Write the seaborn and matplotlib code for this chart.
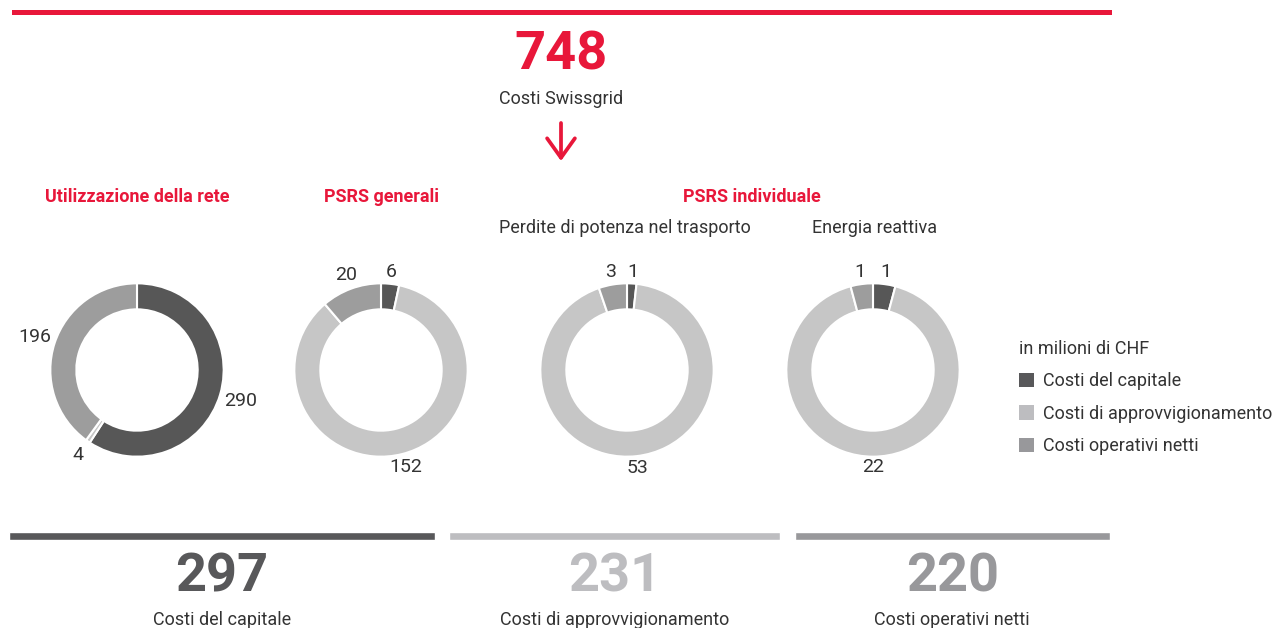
import numpy as np
import matplotlib
matplotlib.use("Agg")
import matplotlib.pyplot as plt
import matplotlib.transforms as mtransforms
from matplotlib.patches import Patch, Rectangle
import seaborn as sns

# data (in milioni di CHF)
costi_totali = 748
gruppi = ["Utilizzazione della rete", "PSRS generali",
          "Perdite di potenza nel trasporto", "Energia reattiva"]
capitale = [290, 6, 1, 1]
approvvigionamento = [4, 152, 53, 22]
operativi = [196, 20, 3, 1]
categorie = ["Costi del capitale", "Costi di approvvigionamento", "Costi operativi netti"]
totali_categorie = [297, 231, 220]

sns.set_theme(style="white")
plt.rcParams["font.family"] = ["Roboto", "DejaVu Sans"]

RED = "#e8173a"
TXT = "#333333"
ring_cols = ["#575757", "#c6c6c6", "#9d9d9d"]
sum_cols = ["#58585a", "#bdbdc0", "#98989b"]
FS = 13

W, H = 1285, 628
fig = plt.figure(figsize=(W / 100, H / 100), dpi=100)
bg = fig.add_axes([0, 0, 1, 1])
bg.set_xlim(0, W)
bg.set_ylim(H, 0)
bg.axis("off")

# header
bg.add_patch(Rectangle((12, 10), 1100, 5, color=RED, lw=0))
bg.text(561, 55, str(costi_totali), color=RED, fontsize=39, fontweight="bold",
        ha="center", va="center")
bg.text(561, 99, "Costi Swissgrid", color=TXT, fontsize=FS,
        ha="center", va="center")
bg.annotate("", xy=(561, 161), xytext=(561, 123),
            arrowprops=dict(arrowstyle="->, head_length=0.7, head_width=0.5",
                            color=RED, lw=2.7, shrinkA=0, shrinkB=0,
                            mutation_scale=20))

# section titles
bg.text(137, 197, "Utilizzazione della rete", color=RED, fontsize=FS,
        fontweight="bold", ha="center", va="center")
bg.text(382, 197, "PSRS generali", color=RED, fontsize=FS,
        fontweight="bold", ha="center", va="center")
bg.text(752, 197, "PSRS individuale", color=RED, fontsize=FS,
        fontweight="bold", ha="center", va="center")
bg.text(625, 228, gruppi[2], color=TXT, fontsize=FS, ha="center", va="center")
bg.text(875, 228, gruppi[3], color=TXT, fontsize=FS, ha="center", va="center")

# donuts
centri = [(137, 370), (381, 370), (627, 370), (873, 370)]
S = 260
for i, (cx, cy) in enumerate(centri):
    ax = fig.add_axes([(cx - S / 2) / W, 1 - (cy + S / 2) / H, S / W, S / H])
    vals = [capitale[i], approvvigionamento[i], operativi[i]]
    wedges, _ = ax.pie(vals, colors=ring_cols, startangle=90, counterclock=False,
                       radius=1, wedgeprops=dict(width=0.3, edgecolor="white", linewidth=1.5))
    for w, v in zip(wedges, vals):
        th = np.deg2rad((w.theta1 + w.theta2) / 2)
        r = 1.12 + 0.13 * abs(np.cos(th))
        ax.text(r * np.cos(th), r * np.sin(th), str(v), color=TXT, fontsize=14,
                ha="center", va="center")
    ax.set_xlim(-1.5, 1.5)
    ax.set_ylim(-1.5, 1.5)
    ax.set_aspect("equal")
    ax.axis("off")

# legend
handles = [Patch(facecolor=c, edgecolor="none") for c in sum_cols]
leg = bg.legend(handles, categorie, title="in milioni di CHF", loc="upper left",
                bbox_to_anchor=(1019, 340), bbox_transform=bg.transData,
                frameon=False, borderpad=0, borderaxespad=0, alignment="left",
                handlelength=0.85, handleheight=0.85, handletextpad=0.5,
                labelspacing=0.8, fontsize=FS, title_fontsize=FS)
for t in leg.get_texts():
    t.set_color(TXT)
leg.get_title().set_color(TXT)

# summary bars
gap = 10
lefts = np.concatenate([[0], np.cumsum(totali_categorie)[:-1]]) + gap * np.arange(3)
axb = fig.add_axes([9 / W, 1 - 540 / H, 1101 / W, 8 / H])
axb.barh([0, 0, 0], totali_categorie, left=lefts, height=1, color=sum_cols)
axb.set_xlim(0, sum(totali_categorie) + 2 * gap)
axb.set_ylim(-0.5, 0.5)
axb.axis("off")
tr = mtransforms.blended_transform_factory(axb.transData, bg.transData)
for l, v, c, lab in zip(lefts, totali_categorie, sum_cols, categorie):
    xc = l + v / 2
    bg.text(xc, 577, str(v), transform=tr, color=c, fontsize=39,
            fontweight="bold", ha="center", va="center")
    bg.text(xc, 620, lab, transform=tr, color=TXT, fontsize=FS,
            ha="center", va="center")

fig.savefig("out.png", dpi=100, facecolor="white")
